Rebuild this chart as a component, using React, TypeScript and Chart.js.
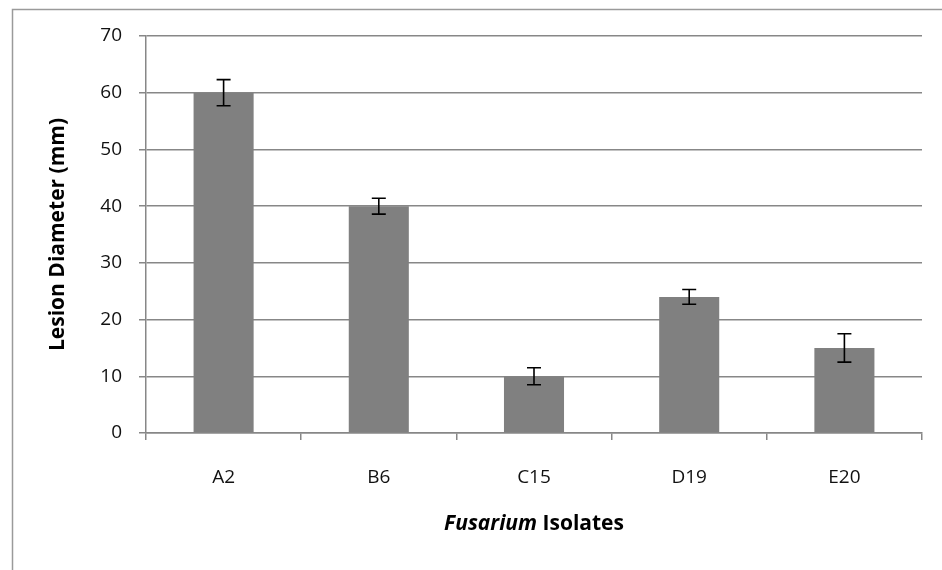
import React, { useEffect, useRef } from 'react';
import { Chart, registerables } from 'chart.js';

Chart.register(...registerables);

const categories = ['A2', 'B6', 'C15', 'D19', 'E20'];
const lesionDiameter = [60, 40, 10, 24, 15];
const errorValues = [2.3, 1.4, 1.5, 1.3, 2.5];
const yMin = 0;
const yMax = 70;
const yStep = 10;
const yTitle = 'Lesion Diameter (mm)';
const xTitleItalic = 'Fusarium';
const xTitleRest = ' Isolates';

const FONT = 'Open Sans';
const AXIS_GRAY = '#878787';

const borderPlugin = {
  id: 'outerBorder',
  beforeDraw(chart: any) {
    const ctx = chart.ctx;
    ctx.save();
    ctx.fillStyle = '#ffffff';
    ctx.fillRect(0, 0, chart.width, chart.height);
    ctx.strokeStyle = '#9a9a9a';
    ctx.lineWidth = 1.5;
    ctx.strokeRect(12.5, 9.5, chart.width + 20, chart.height + 20);
    ctx.restore();
  },
};

const errorBarPlugin = {
  id: 'errorBars',
  afterDatasetsDraw(chart: any) {
    const ctx = chart.ctx;
    const xs = chart.scales.x;
    const ys = chart.scales.y;
    ctx.save();
    ctx.strokeStyle = '#000000';
    ctx.lineWidth = 1.6;
    lesionDiameter.forEach((v, i) => {
      const e = errorValues[i];
      const x = xs.getPixelForValue(i);
      const yt = ys.getPixelForValue(v + e);
      const yb = ys.getPixelForValue(v - e);
      const half = 7;
      ctx.beginPath();
      ctx.moveTo(x, yt);
      ctx.lineTo(x, yb);
      ctx.moveTo(x - half, yt);
      ctx.lineTo(x + half, yt);
      ctx.moveTo(x - half, yb);
      ctx.lineTo(x + half, yb);
      ctx.stroke();
    });
    ctx.restore();
  },
};

const xTitlePlugin = {
  id: 'xTitleMixed',
  afterDraw(chart: any) {
    const ctx = chart.ctx;
    const area = chart.chartArea;
    const cx = (area.left + area.right) / 2;
    const y = 524;
    ctx.save();
    ctx.textBaseline = 'middle';
    ctx.fillStyle = '#000000';
    const fItalic = `italic bold 21px "${FONT}"`;
    const fNormal = `bold 21px "${FONT}"`;
    ctx.font = fItalic;
    const w1 = ctx.measureText(xTitleItalic).width;
    ctx.font = fNormal;
    const w2 = ctx.measureText(xTitleRest).width;
    const start = cx - (w1 + w2) / 2;
    ctx.textAlign = 'left';
    ctx.font = fItalic;
    ctx.fillText(xTitleItalic, start, y);
    ctx.font = fNormal;
    ctx.fillText(xTitleRest, start + w1, y);
    ctx.restore();
  },
};

export default function App() {
  const ref = useRef<HTMLCanvasElement | null>(null);

  useEffect(() => {
    if (!ref.current) return;
    const chart = new Chart(ref.current, {
      type: 'bar',
      data: {
        labels: categories,
        datasets: [
          {
            data: lesionDiameter,
            backgroundColor: '#808080',
            borderWidth: 0,
            categoryPercentage: 1,
            barPercentage: 0.387,
          },
        ],
      },
      options: {
        responsive: false,
        animation: false,
        devicePixelRatio: 1,
        layout: { padding: { top: 36, right: 20, left: 0, bottom: 0 } },
        plugins: {
          legend: { display: false },
          tooltip: { enabled: false },
          title: { display: false },
        },
        scales: {
          x: {
            offset: true,
            grid: {
              display: true,
              offset: true,
              drawOnChartArea: false,
              drawTicks: true,
              tickLength: 7,
              color: AXIS_GRAY,
              lineWidth: 1.5,
            },
            border: { display: true, color: AXIS_GRAY, width: 1.5 },
            ticks: {
              color: '#111111',
              font: { family: FONT, size: 19 },
              padding: 26,
            },
            afterFit: (s: any) => {
              s.height = 137;
            },
          },
          y: {
            min: yMin,
            max: yMax,
            ticks: {
              stepSize: yStep,
              color: '#111111',
              font: { family: FONT, size: 19 },
              padding: 17,
            },
            grid: { color: AXIS_GRAY, tickLength: 7, lineWidth: 1.5 },
            border: { display: true, color: AXIS_GRAY, width: 1.5 },
            title: {
              display: true,
              text: yTitle,
              color: '#000000',
              font: { family: FONT, size: 21, weight: 'bold' },
              padding: { top: 45, bottom: 0 },
            },
            afterFit: (s: any) => {
              s.width = 146;
            },
          },
        },
      },
      plugins: [borderPlugin, errorBarPlugin, xTitlePlugin],
    });
    return () => chart.destroy();
  }, []);

  return (
    <div style={{ position: 'absolute', left: 0, top: 0, width: 942, height: 570, background: '#fff' }}>
      <canvas ref={ref} width={942} height={570} style={{ display: 'block', width: 942, height: 570 }} />
    </div>
  );
}
